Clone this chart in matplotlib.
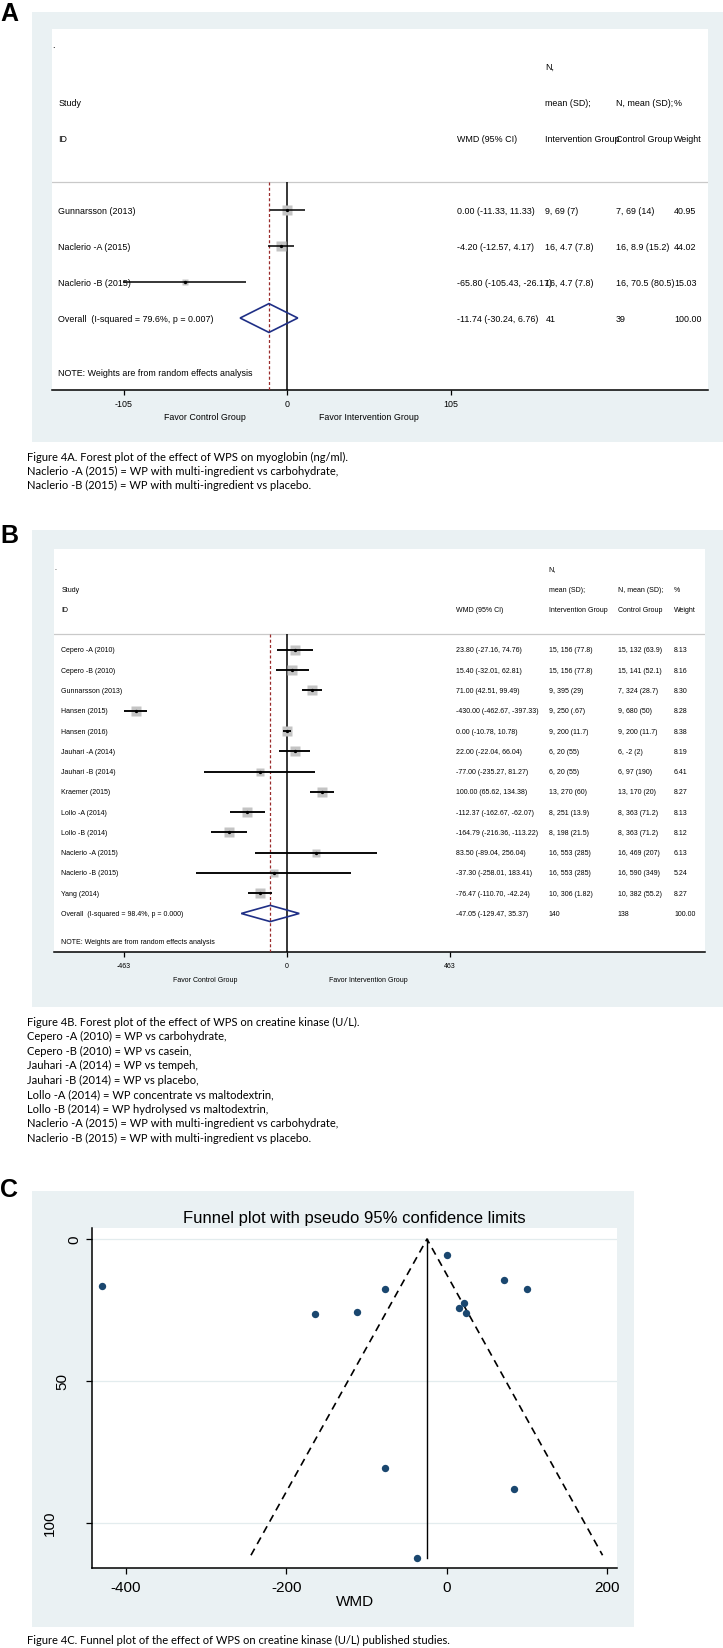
import matplotlib
matplotlib.use('Agg')
import matplotlib.pyplot as plt
from matplotlib.patches import Polygon

W, H = 723, 1649
BG = '#eaf1f3'
NAVY = '#1f2f86'
DOTS = '#1a476f'
MAROON = '#9a2b2b'
BOX = '#c4c4c4'
FONT = 'Liberation Sans'
CAP_FONT = 'Lato'

# ---------------- panel A data (myoglobin) ----------------
a_study = ['Gunnarsson (2013)', 'Naclerio -A (2015)', 'Naclerio -B (2015)']
a_wmd = [0.00, -4.20, -65.80]
a_lo = [-11.33, -12.57, -105.43]
a_hi = [11.33, 4.17, -26.17]
a_int = ['9, 69 (7)', '16, 4.7 (7.8)', '16, 4.7 (7.8)']
a_ctl = ['7, 69 (14)', '16, 8.9 (15.2)', '16, 70.5 (80.5)']
a_weight = [40.95, 44.02, 15.03]
a_overall = [-11.74, -30.24, 6.76]
a_overall_label = 'Overall  (I-squared = 79.6%, p = 0.007)'
a_overall_n = ['41', '39']
a_ticks = [-105, 0, 105]
a_caption = ['Figure 4A. Forest plot of the effect of WPS on myoglobin (ng/ml).',
             'Naclerio -A (2015) = WP with multi-ingredient vs carbohydrate,',
             'Naclerio -B (2015) = WP with multi-ingredient vs placebo.']

# ---------------- panel B data (creatine kinase) ----------------
b_study = ['Cepero -A (2010)', 'Cepero -B (2010)', 'Gunnarsson (2013)', 'Hansen (2015)',
           'Hansen (2016)', 'Jauhari -A (2014)', 'Jauhari -B (2014)', 'Kraemer (2015)',
           'Lollo -A (2014)', 'Lollo -B (2014)', 'Naclerio -A (2015)', 'Naclerio -B (2015)',
           'Yang (2014)']
b_wmd = [23.80, 15.40, 71.00, -430.00, 0.00, 22.00, -77.00, 100.00, -112.37, -164.79,
         83.50, -37.30, -76.47]
b_lo = [-27.16, -32.01, 42.51, -462.67, -10.78, -22.04, -235.27, 65.62, -162.67, -216.36,
        -89.04, -258.01, -110.70]
b_hi = [74.76, 62.81, 99.49, -397.33, 10.78, 66.04, 81.27, 134.38, -62.07, -113.22,
        256.04, 183.41, -42.24]
b_int = ['15, 156 (77.8)', '15, 156 (77.8)', '9, 395 (29)', '9, 250 (.67)', '9, 200 (11.7)',
         '6, 20 (55)', '6, 20 (55)', '13, 270 (60)', '8, 251 (13.9)', '8, 198 (21.5)',
         '16, 553 (285)', '16, 553 (285)', '10, 306 (1.82)']
b_ctl = ['15, 132 (63.9)', '15, 141 (52.1)', '7, 324 (28.7)', '9, 680 (50)', '9, 200 (11.7)',
         '6, -2 (2)', '6, 97 (190)', '13, 170 (20)', '8, 363 (71.2)', '8, 363 (71.2)',
         '16, 469 (207)', '16, 590 (349)', '10, 382 (55.2)']
b_weight = [8.13, 8.16, 8.30, 8.28, 8.38, 8.19, 6.41, 8.27, 8.13, 8.12, 6.13, 5.24, 8.27]
b_overall = [-47.05, -129.47, 35.37]
b_overall_label = 'Overall  (I-squared = 98.4%, p = 0.000)'
b_overall_n = ['140', '138']
b_ticks = [-463, 0, 463]
b_caption = ['Figure 4B. Forest plot of the effect of WPS on creatine kinase (U/L).',
             'Cepero -A (2010) = WP vs carbohydrate,',
             'Cepero -B (2010) = WP vs casein,',
             'Jauhari -A (2014) = WP vs tempeh,',
             'Jauhari -B (2014) = WP vs placebo,',
             'Lollo -A (2014) = WP concentrate vs maltodextrin,',
             'Lollo -B (2014) = WP hydrolysed vs maltodextrin,',
             'Naclerio -A (2015) = WP with multi-ingredient vs carbohydrate,',
             'Naclerio -B (2015) = WP with multi-ingredient vs placebo.']

# ---------------- panel C data (funnel) ----------------
c_wmd = b_wmd
c_se = [26.0, 24.2, 14.5, 16.7, 5.5, 22.5, 80.7, 17.5, 25.7, 26.3, 88.0, 112.6, 17.5]
funnel_x = [-244.0, -24.7, 194.0]
funnel_y = [111.5, 0.0, 111.5]
centre_x = [-24.7, -24.7]
centre_y = [0.0, 112.6]
c_xticks = [-400, -200, 0, 200]
c_yticks = [0, 50, 100]
c_caption = 'Figure 4C. Funnel plot of the effect of WPS on creatine kinase (U/L) published studies.'

fig = plt.figure(figsize=(W / 100, H / 100), dpi=100)
fig.patch.set_facecolor('white')


def px_axes(x0, y0, x1, y1, **kw):
    return fig.add_axes([x0 / W, 1 - y1 / H, (x1 - x0) / W, (y1 - y0) / H], **kw)


def ftext(x, y, s, **kw):
    fig.text(x / W, 1 - y / H, s, **kw)


def panel_bg(x0, y0, x1, y1):
    bg = px_axes(x0, y0, x1, y1, zorder=0)
    bg.set_facecolor(BG)
    bg.set_xticks([])
    bg.set_yticks([])
    for s in bg.spines.values():
        s.set_visible(False)


def forest(box, xlim, ylim, cols, studies, wmd, lo, hi, n_int, n_ctl, weights,
           overall, overall_label, overall_n, ticks, fs, box_px, lw, note_row,
           favor_row, dot_row, tickpad):
    x0, y0, x1, y1 = box
    ax = px_axes(x0, y0, x1, y1, zorder=2)
    ax.set_facecolor('white')
    ax.set_xlim(*xlim)
    ax.set_ylim(*ylim)
    for k in ['top', 'left', 'right']:
        ax.spines[k].set_visible(False)
    ax.spines['bottom'].set_linewidth(1.1)
    ax.set_yticks([])
    ax.set_xticks(ticks)
    ax.set_xticklabels([str(t) for t in ticks], fontsize=fs, family=FONT)
    ax.tick_params(axis='x', length=3.5, width=0.9, pad=tickpad)

    tr = ax.get_yaxis_transform()
    fx = {k: (v - x0) / (x1 - x0) for k, v in cols.items()}
    txt = dict(fontsize=fs, family=FONT, va='center', ha='left', transform=tr, clip_on=False)

    n = len(studies)
    sep = -0.78
    # header
    ax.text(0.0, dot_row, '.', **txt)
    ax.text(fx['n'], -4, 'N,', **txt)
    ax.text(fx['study'], -3, 'Study', **txt)
    ax.text(fx['n'], -3, 'mean (SD);', **txt)
    ax.text(fx['ctl'], -3, 'N, mean (SD);', **txt)
    ax.text(fx['w'], -3, '%', **txt)
    ax.text(fx['study'], -2, 'ID', **txt)
    ax.text(fx['wmd'], -2, 'WMD (95% CI)', **txt)
    ax.text(fx['n'], -2, 'Intervention Group', **txt)
    ax.text(fx['ctl'], -2, 'Control Group', **txt)
    ax.text(fx['w'], -2, 'Weight', **txt)
    ax.axhline(sep, color='#c9c9c9', lw=0.9, zorder=1)

    # reference lines
    ax.vlines(0, sep, ylim[0], colors='black', lw=1.1, zorder=3)
    ax.vlines(overall[0], sep, ylim[0], colors=MAROON, lw=0.9,
              linestyles=(0, (2.4, 1.8)), zorder=3)

    wmax = max(weights)
    for i in range(n):
        side = box_px * (weights[i] / wmax) ** 0.5 * 0.72
        ax.plot(wmd[i], i, 's', ms=side, color=BOX, mec='none', zorder=4)
        ax.plot([lo[i], hi[i]], [i, i], color='black', lw=lw, zorder=5, solid_capstyle='butt')
        ax.plot(wmd[i], i, 'o', ms=2.4, color='black', mec='none', zorder=6)
        ax.text(fx['study'], i, studies[i], **txt)
        ax.text(fx['wmd'], i, f'{wmd[i]:.2f} ({lo[i]:.2f}, {hi[i]:.2f})', **txt)
        ax.text(fx['n'], i, n_int[i], **txt)
        ax.text(fx['ctl'], i, n_ctl[i], **txt)
        ax.text(fx['w'], i, f'{weights[i]:.2f}', **txt)

    est, olo, ohi = overall
    dm = Polygon([(olo, n), (est, n - 0.4), (ohi, n), (est, n + 0.4)], closed=True,
                 fill=False, edgecolor=NAVY, lw=1.2, zorder=6)
    ax.add_patch(dm)
    ax.text(fx['study'], n, overall_label, **txt)
    ax.text(fx['wmd'], n, f'{est:.2f} ({olo:.2f}, {ohi:.2f})', **txt)
    ax.text(fx['n'], n, overall_n[0], **txt)
    ax.text(fx['ctl'], n, overall_n[1], **txt)
    ax.text(fx['w'], n, '100.00', **txt)
    ax.text(fx['study'], note_row, 'NOTE: Weights are from random effects analysis', **txt)

    half = ticks[2] / 2
    ax.text(-half, favor_row, 'Favor Control Group', fontsize=fs, family=FONT,
            ha='center', va='center', clip_on=False)
    ax.text(half, favor_row, 'Favor Intervention Group', fontsize=fs, family=FONT,
            ha='center', va='center', clip_on=False)
    return ax


CAP_FS = 8.0

# ---------------- panel A ----------------
ftext(0, 14, 'A', fontsize=18, fontweight='bold', family=FONT, va='center', ha='left')
panel_bg(32, 13, 723, 443)
forest((52, 30, 708, 391), (-150.9, 269.9), (5.0, -5.03),
       dict(study=58.5, wmd=457.4, n=545.4, ctl=615.5, w=674),
       a_study, a_wmd, a_lo, a_hi, a_int, a_ctl, a_weight,
       a_overall, a_overall_label, a_overall_n, a_ticks,
       fs=6.4, box_px=10.5, lw=1.1, note_row=4.5, favor_row=5.75, dot_row=-4.61,
       tickpad=3.0)
for k, line in enumerate(a_caption):
    ftext(27.5, 457 + 14.2 * k, line, fontsize=CAP_FS, family=CAP_FONT, va='center', ha='left')

# ---------------- panel B ----------------
ftext(0, 536, 'B', fontsize=18, fontweight='bold', family=FONT, va='center', ha='left')
panel_bg(32, 531, 723, 1008)
forest((54, 550, 705, 953), (-661.7, 1188.7), (14.9, -4.98),
       dict(study=61.3, wmd=456.4, n=548.6, ctl=617.8, w=674),
       b_study, b_wmd, b_lo, b_hi, b_int, b_ctl, b_weight,
       b_overall, b_overall_label, b_overall_n, b_ticks,
       fs=5.05, box_px=9.5, lw=1.35, note_row=14.4, favor_row=16.28, dot_row=-4.09,
       tickpad=4.0)
for k, line in enumerate(b_caption):
    ftext(27.5, 1022 + 14.5 * k, line, fontsize=CAP_FS, family=CAP_FONT, va='center', ha='left')

# ---------------- panel C ----------------
ftext(0, 1190, 'C', fontsize=18, fontweight='bold', family=FONT, va='center', ha='left')
panel_bg(32, 1192, 634, 1628)
ftext(354, 1219, 'Funnel plot with pseudo 95% confidence limits', fontsize=12.0,
      family=FONT, ha='center', va='center')
axc = px_axes(92, 1229, 617, 1569, zorder=2)
axc.set_facecolor('white')
axc.set_xlim(-442, 212)
axc.set_ylim(116.0, -3.9)
for k in ['top', 'right']:
    axc.spines[k].set_visible(False)
for k in ['left', 'bottom']:
    axc.spines[k].set_linewidth(1.1)
axc.set_xticks(c_xticks)
axc.set_xticklabels([str(t) for t in c_xticks], fontsize=11, family=FONT)
axc.set_yticks(c_yticks)
axc.set_yticklabels([])
axc.tick_params(length=4.5, width=0.9, pad=4)
# rotated y labels sit further left the longer they are, as in the Stata original
ytr = axc.get_yaxis_transform()
for t in c_yticks:
    xoff = -0.034 - 0.0115 * (len(str(t)) - 1) * 2
    axc.text(xoff, t, str(t), fontsize=11, family=FONT, rotation=90,
             ha='center', va='center', transform=ytr, clip_on=False)
axc.grid(axis='y', color='#e3ecee', lw=0.9)
axc.set_axisbelow(True)
axc.plot(funnel_x, funnel_y, color='black', lw=1.2, ls=(0, (4.5, 3.2)), zorder=3)
axc.plot(centre_x, centre_y, color='black', lw=1.0, zorder=3)
axc.plot(c_wmd, c_se, 'o', ms=5.3, color=DOTS, mec='none', zorder=4)
axc.set_xlabel('WMD', fontsize=11, family=FONT, labelpad=0)
ftext(27.5, 1640, c_caption, fontsize=CAP_FS, family=CAP_FONT, va='center', ha='left')

fig.savefig('out.png', dpi=100, facecolor='white')
